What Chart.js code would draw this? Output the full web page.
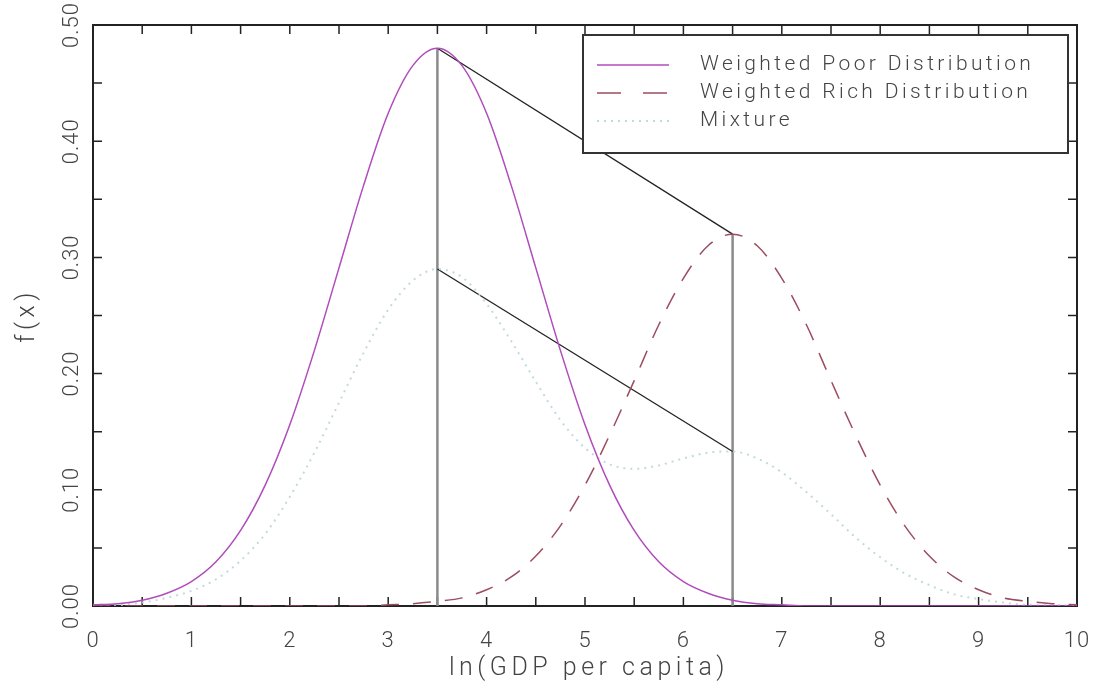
<!DOCTYPE html>
<html lang="en">
<head>
    <meta charset="UTF-8">
    <title>Weighted distributions</title>
    <script src="https://cdn.jsdelivr.net/npm/chart.js"></script>
    <style>
        body { margin: 0; background: #fff; }
        .chart-box { width: 1093px; height: 691px; position: relative; }
    </style>
</head>
<body>
    <div class="chart-box">
        <canvas id="mixChart"></canvas>
    </div>

    <script>
        // x grid (ln GDP per capita), step 0.25
        const xValues = [0, 0.25, 0.5, 0.75, 1, 1.25, 1.5, 1.75, 2, 2.25, 2.5, 2.75, 3, 3.25, 3.5, 3.75, 4, 4.25, 4.5, 4.75,
            5, 5.25, 5.5, 5.75, 6, 6.25, 6.5, 6.75, 7, 7.25, 7.5, 7.75, 8, 8.25, 8.5, 8.75, 9, 9.25, 9.5, 9.75, 10];
        const poorValues = [0.001, 0.002, 0.005, 0.011, 0.021, 0.038, 0.065, 0.104, 0.156, 0.220, 0.291, 0.362, 0.424, 0.465, 0.480, 0.465, 0.424, 0.362, 0.291, 0.220,
            0.156, 0.104, 0.065, 0.038, 0.021, 0.011, 0.005, 0.002, 0.001, 0, 0, 0, 0, 0, 0, 0, 0, 0, 0, 0, 0];
        const richValues = [0, 0, 0, 0, 0, 0, 0, 0, 0, 0, 0, 0, 0.001, 0.002, 0.004, 0.007, 0.014, 0.025, 0.043, 0.069,
            0.104, 0.147, 0.194, 0.242, 0.282, 0.310, 0.320, 0.310, 0.282, 0.242, 0.194, 0.147, 0.104, 0.069, 0.043, 0.025, 0.014, 0.007, 0.004, 0.002, 0.001];
        const mixValues = [0.001, 0.001, 0.003, 0.007, 0.013, 0.023, 0.039, 0.062, 0.094, 0.132, 0.175, 0.218, 0.255, 0.280, 0.290, 0.283, 0.260, 0.228, 0.193, 0.160,
            0.136, 0.122, 0.118, 0.121, 0.127, 0.132, 0.133, 0.127, 0.115, 0.098, 0.079, 0.059, 0.042, 0.028, 0.018, 0.010, 0.006, 0.003, 0.001, 0.001, 0];

        // the two modes and the connecting segments
        const modeX = [3.5, 6.5];
        const peakY = [0.48, 0.32];
        const mixAtModeY = [0.29, 0.133];

        const seriesNames = ['Weighted Poor Distribution', 'Weighted Rich Distribution', 'Mixture'];
        const xTicks = [0, 1, 2, 3, 4, 5, 6, 7, 8, 9, 10];
        const yTicks = [0, 0.1, 0.2, 0.3, 0.4, 0.5];
        const xTitle = 'ln(GDP per capita)';
        const yTitle = 'f(x)';

        const textFont = "'Roboto', 'DejaVu Sans', sans-serif";
        const textColor = '#444';

        const toPoints = (xs, ys) => xs.map((x, i) => ({ x: x, y: ys[i] }));

        // frame with inward ticks on all four sides, plus the spaced-out axis titles
        const framePlugin = {
            id: 'frame',
            beforeDraw(chart) {
                chart.ctx.letterSpacing = '1px';
            },
            beforeDatasetsDraw(chart) {
                const { ctx, chartArea: a, scales } = chart;
                ctx.save();
                ctx.strokeStyle = '#222';
                ctx.lineWidth = 1.5;
                for (let v = 0; v <= 10.001; v += 0.5) {
                    const px = scales.x.getPixelForValue(v);
                    ctx.beginPath();
                    ctx.moveTo(px, a.bottom); ctx.lineTo(px, a.bottom - 9);
                    ctx.moveTo(px, a.top); ctx.lineTo(px, a.top + 9);
                    ctx.stroke();
                }
                for (let v = 0; v <= 0.5001; v += 0.05) {
                    const py = scales.y.getPixelForValue(v);
                    ctx.beginPath();
                    ctx.moveTo(a.left, py); ctx.lineTo(a.left + 9, py);
                    ctx.moveTo(a.right, py); ctx.lineTo(a.right - 9, py);
                    ctx.stroke();
                }
                ctx.lineWidth = 2;
                ctx.strokeRect(a.left, a.top, a.right - a.left, a.bottom - a.top);

                ctx.fillStyle = textColor;
                ctx.font = '300 25px ' + textFont;
                ctx.letterSpacing = '4.5px';
                ctx.textAlign = 'center';
                ctx.textBaseline = 'middle';
                ctx.fillText(xTitle, (a.left + a.right) / 2 + 4, 669);
                ctx.translate(28, (a.top + a.bottom) / 2);
                ctx.rotate(-Math.PI / 2);
                ctx.fillText(yTitle, 0, 0);
                ctx.restore();
            }
        };

        // boxed legend in the upper right
        const legendPlugin = {
            id: 'boxLegend',
            afterDatasetsDraw(chart) {
                const { ctx, chartArea: a } = chart;
                const left = 583, top = 35, right = a.right - 9, bottom = 153;
                ctx.save();
                ctx.fillStyle = '#fff';
                ctx.fillRect(left, top, right - left, bottom - top);
                ctx.strokeStyle = '#333';
                ctx.lineWidth = 2;
                ctx.strokeRect(left, top, right - left, bottom - top);
                const rows = [65, 93, 121];
                const dashes = [[], [24, 22], [2, 5]];
                chart.data.datasets.slice(0, 3).forEach((ds, i) => {
                    ctx.beginPath();
                    ctx.setLineDash(dashes[i]);
                    ctx.strokeStyle = ds.borderColor;
                    ctx.lineWidth = i === 2 ? 2 : 1.5;
                    ctx.moveTo(597, rows[i]);
                    ctx.lineTo(669, rows[i]);
                    ctx.stroke();
                    ctx.setLineDash([]);
                    ctx.fillStyle = textColor;
                    ctx.font = '300 21px ' + textFont;
                    ctx.letterSpacing = '3.4px';
                    ctx.textAlign = 'left';
                    ctx.textBaseline = 'middle';
                    ctx.fillText(ds.label, 700, rows[i]);
                });
                ctx.restore();
            }
        };

        const ctx = document.getElementById('mixChart').getContext('2d');
        const mixChart = new Chart(ctx, {
            type: 'line',
            data: {
                datasets: [
                    {
                        label: seriesNames[0],
                        data: toPoints(xValues, poorValues),
                        borderColor: '#b04cbc',
                        borderWidth: 1.5,
                        pointRadius: 0,
                        cubicInterpolationMode: 'monotone'
                    },
                    {
                        label: seriesNames[1],
                        data: toPoints(xValues, richValues),
                        borderColor: '#9c4d60',
                        borderWidth: 1.5,
                        borderDash: [18, 14],
                        pointRadius: 0,
                        cubicInterpolationMode: 'monotone'
                    },
                    {
                        label: seriesNames[2],
                        data: toPoints(xValues, mixValues),
                        borderColor: '#c2dade',
                        borderWidth: 2,
                        borderDash: [2, 5],
                        pointRadius: 0,
                        cubicInterpolationMode: 'monotone'
                    },
                    {
                        data: toPoints(modeX, peakY),
                        borderColor: '#222',
                        borderWidth: 1.3,
                        pointRadius: 0
                    },
                    {
                        data: toPoints(modeX, mixAtModeY),
                        borderColor: '#222',
                        borderWidth: 1.3,
                        pointRadius: 0
                    },
                    {
                        data: toPoints([modeX[0], modeX[0]], [0, peakY[0]]),
                        borderColor: '#8a8a8a',
                        borderWidth: 2.5,
                        pointRadius: 0
                    },
                    {
                        data: toPoints([modeX[1], modeX[1]], [0, peakY[1]]),
                        borderColor: '#8a8a8a',
                        borderWidth: 2.5,
                        pointRadius: 0
                    }
                ]
            },
            options: {
                responsive: true,
                maintainAspectRatio: false,
                animation: false,
                layout: { padding: { top: 25, right: 16, left: 0, bottom: 0 } },
                plugins: {
                    legend: { display: false },
                    tooltip: { enabled: false }
                },
                scales: {
                    x: {
                        type: 'linear',
                        min: 0,
                        max: 10,
                        afterBuildTicks: s => { s.ticks = xTicks.map(v => ({ value: v })); },
                        afterFit: s => { s.height = 85; s.paddingLeft = 0; s.paddingRight = 0; },
                        grid: { display: false },
                        border: { display: false },
                        ticks: {
                            padding: 14,
                            color: textColor,
                            font: { family: textFont, size: 22, weight: 300 },
                            maxRotation: 0
                        }
                    },
                    y: {
                        type: 'linear',
                        min: 0,
                        max: 0.5,
                        afterBuildTicks: s => { s.ticks = yTicks.map(v => ({ value: v })); },
                        afterFit: s => { s.width = 93; s.paddingTop = 0; s.paddingBottom = 0; },
                        grid: { display: false },
                        border: { display: false },
                        ticks: {
                            callback: v => v.toFixed(2),
                            minRotation: 90,
                            maxRotation: 90,
                            crossAlign: 'center',
                            autoSkip: false,
                            padding: -8,
                            color: textColor,
                            font: { family: textFont, size: 22, weight: 300 }
                        }
                    }
                }
            },
            plugins: [framePlugin, legendPlugin]
        });
    </script>
</body>
</html>
